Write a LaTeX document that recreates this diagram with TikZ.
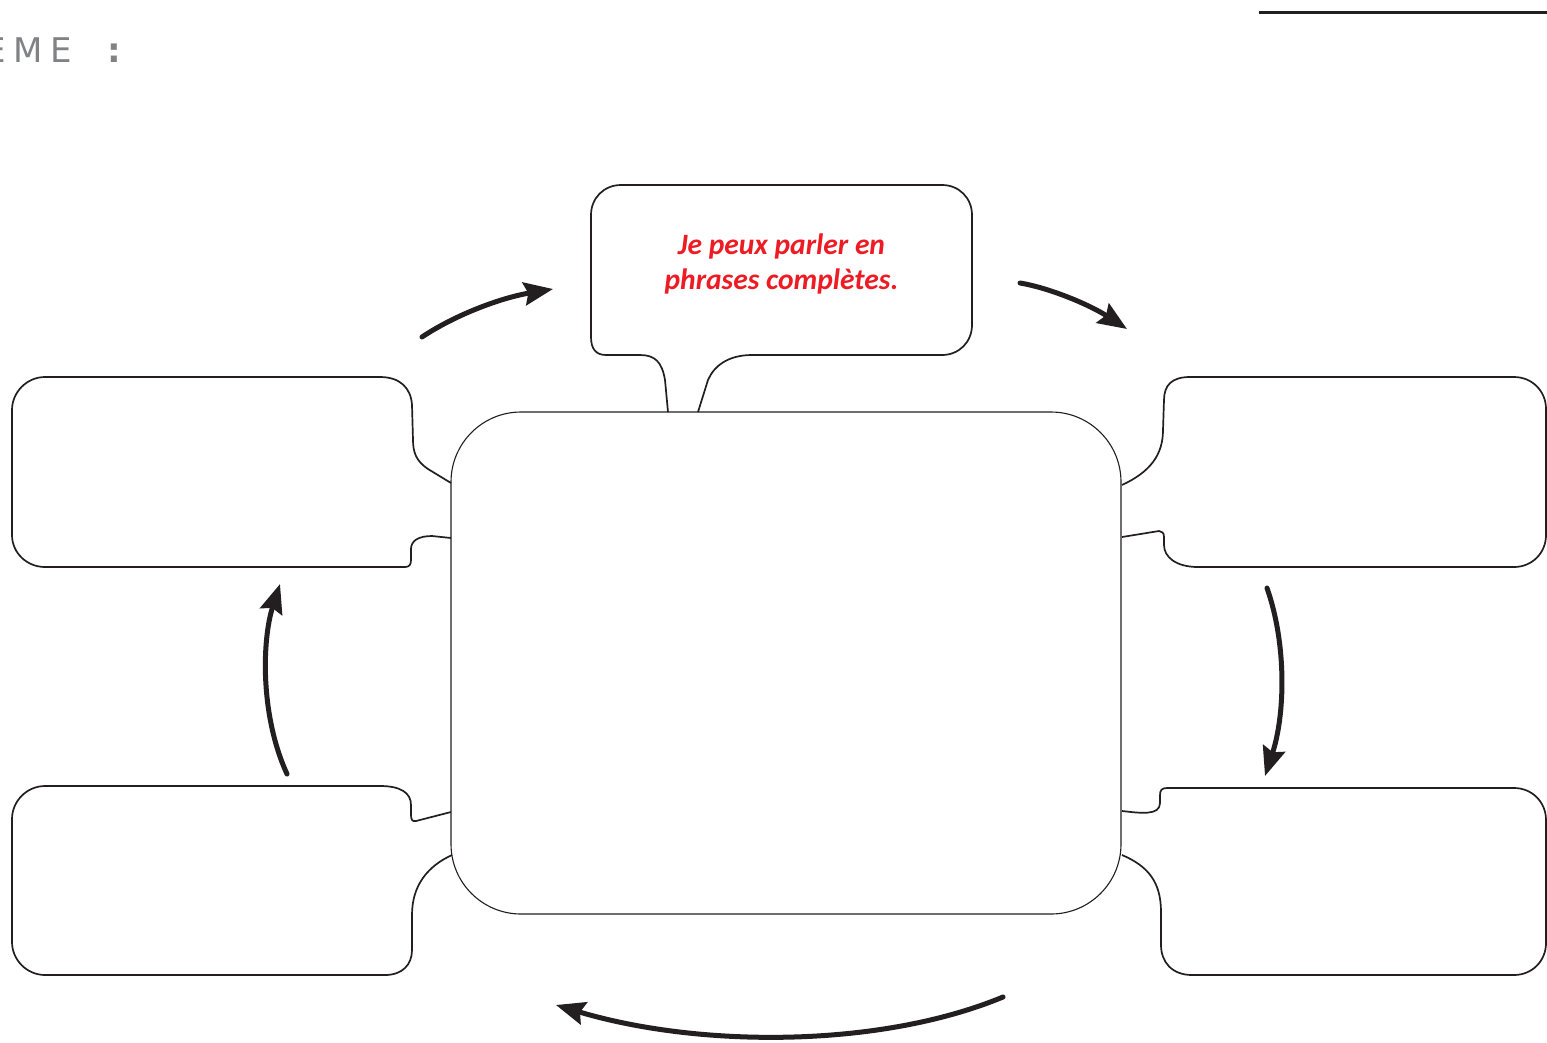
\documentclass[tikz,border=0pt]{standalone}
\usepackage{fontspec}
\usetikzlibrary{arrows.meta}
\newfontfamily\carlito{Carlito}
\newfontfamily\dejavu{DejaVu Sans}
\definecolor{ink}{HTML}{231F20}
\definecolor{redtxt}{HTML}{ED1C24}
\definecolor{graytxt}{HTML}{808285}
\begin{document}
\begin{tikzpicture}[x=1pt,y=-1pt,
  box/.style={draw=ink,line width=1.7pt,line join=round},
  centerbox/.style={draw=ink,line width=1.1pt,rounded corners=70pt,minimum width=670pt,minimum height=502pt,inner sep=0pt},
  cycarrow/.style={draw=ink,line width=5pt,line cap=round,-{Stealth[length=29pt,width=23pt,inset=4pt]}}]
\useasboundingbox (0,0) rectangle (1547,1042);
\fill[white] (0,0) rectangle (1547,1042);

% header
\node[anchor=base west,inner sep=0pt,text=graytxt,font=\dejavu\fontsize{34}{40}\selectfont] (theme) at (-15.5,62) {E\hspace{7pt}M\hspace{8pt}E\hspace{36pt}{\bfseries :}};
\coordinate (ls) at (1259,12);
\coordinate (le) at (1547,12);
\draw[ink,line width=3pt] (ls) -- (le);

% central box
\node[centerbox] (center) at (786,663) {};

% top callout
\draw[box] (668,412) -- (665,380) .. controls (662,362) and (655,355) .. (640,355) -- (606,355) .. controls (596,355) and (591,349) .. (591,337) -- (591,215) .. controls (591,198) and (604,185) .. (621,185) -- (942,185) .. controls (959,185) and (972,198) .. (972,215) -- (972,325) .. controls (972,342) and (959,355) .. (942,355) -- (752,355) .. controls (728,355) and (714,366) .. (708,380) -- (698,412);
\node[text=redtxt,font=\carlito\bfseries\itshape\fontsize{29.5}{35}\selectfont,align=center,inner sep=0pt] (speech) at (781.5,264) {Je peux parler en\\phrases complètes.};

% left-top box
\draw[box] (451,483) -- (428,469) .. controls (416,461) and (413,452) .. (413,440) -- (412,405) .. controls (411,388) and (400,377) .. (380,377) -- (45,377) .. controls (27,377) and (12,392) .. (12,410) -- (12,535) .. controls (12,553) and (27,567) .. (45,567) -- (405,567) .. controls (409,567) and (411,565) .. (411,560) -- (411,549) .. controls (411,541) and (418,536) .. (432,536) -- (451,538);

% right-top box
\draw[box] (1122,485) .. controls (1150,472) and (1163,455) .. (1163,430) -- (1164,400) .. controls (1164,385) and (1172,377) .. (1190,377) -- (1514,377) .. controls (1532,377) and (1546,391) .. (1546,409) -- (1546,535) .. controls (1546,553) and (1532,567) .. (1514,567) -- (1198,567) .. controls (1176,567) and (1164,557) .. (1164,545) -- (1164,537) .. controls (1164,533) and (1162,531) .. (1159,531) -- (1122,537);

% left-bottom box
\draw[box] (451,812) -- (416,821) .. controls (412,822) and (411,819) .. (411,815) -- (411,805) .. controls (411,793) and (401,786) .. (380,786) -- (45,786) .. controls (27,786) and (12,801) .. (12,819) -- (12,942) .. controls (12,960) and (27,975) .. (45,975) -- (385,975) .. controls (402,975) and (412,965) .. (412,950) -- (412,915) .. controls (412,885) and (428,866) .. (452,855);

% right-bottom box
\draw[box] (1122,811) .. controls (1140,813) and (1160,816) .. (1160,803) -- (1160,795) .. controls (1160,790) and (1162,788) .. (1167,788) -- (1514,788) .. controls (1532,788) and (1546,802) .. (1546,820) -- (1546,943) .. controls (1546,961) and (1532,975) .. (1514,975) -- (1192,975) .. controls (1172,975) and (1161,962) .. (1161,945) -- (1161,912) .. controls (1161,882) and (1148,866) .. (1122,855);

% arrows
\coordinate (a1s) at (422,337);
\coordinate (a1e) at (553,289);
\coordinate (a2s) at (1020,283);
\coordinate (a2e) at (1127,329);
\coordinate (a3s) at (1267,588);
\coordinate (a3e) at (1265,776);
\coordinate (a4s) at (1003,997);
\coordinate (a4e) at (556,1005);
\coordinate (a5s) at (287,774);
\coordinate (a5e) at (280,584);
\draw[cycarrow] (a1s) .. controls (455,315) and (500,298) .. (a1e);
\draw[cycarrow] (a2s) .. controls (1050,288) and (1090,305) .. (a2e);
\draw[cycarrow] (a3s) .. controls (1287,645) and (1285,715) .. (a3e);
\draw[cycarrow] (a4s) .. controls (880,1048) and (700,1048) .. (a4e);
\draw[cycarrow] (a5s) .. controls (260,715) and (262,640) .. (a5e);
\end{tikzpicture}
\end{document}
